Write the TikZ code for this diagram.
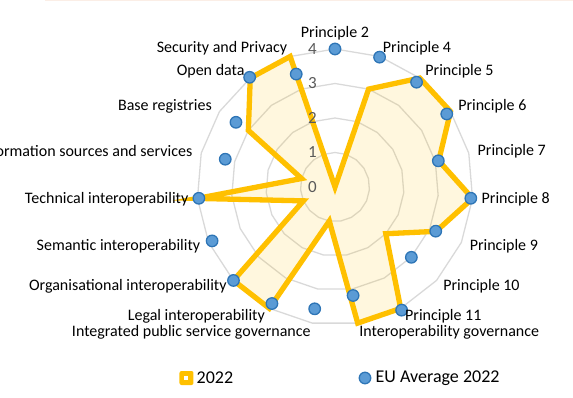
\documentclass[tikz,border=0pt]{standalone}
\usepackage{fontspec}
\setmainfont{Carlito}
\usepackage{tikz}
\definecolor{gold}{HTML}{FFC000}
\definecolor{eufill}{HTML}{5B9BD5}
\definecolor{euline}{HTML}{2E75B6}
\definecolor{gridgray}{HTML}{D9D9D9}
\definecolor{tickgray}{HTML}{595959}
\definecolor{topline}{HTML}{FBEEE6}
\def\ring(#1){\draw[gridline] (90:#1) \foreach \k in {1,...,18}{ -- ({90-\k*360/19}:#1)} -- cycle;}
\tikzset{
	gridline/.style={draw=gridgray, line width=1.3pt},
	serie/.style={draw=gold, line width=5.3pt},
	seriefill/.style={fill=gold, fill opacity=0.13},
	eudot/.style={circle, fill=eufill, draw=euline, line width=1.3pt, minimum size=11.5pt, inner sep=0pt},
	axislab/.style={inner sep=0pt, font=\fontsize{16}{19}\selectfont},
	ticklab/.style={inner sep=0pt, anchor=east, text=tickgray, font=\fontsize{17}{20}\selectfont},
	legtext/.style={inner sep=0pt, anchor=west, font=\fontsize{18}{22}\selectfont}
}

\begin{document}
\begin{tikzpicture}[x=1pt, y=1pt]
		%%%%% START %%%%%
		\useasboundingbox (-335, -210) rectangle (238, 187);
		\draw[topline, line width=1.5pt] (-290, 186.5) -- (238, 186.5);
		
		\ring(34.5) \ring(69) \ring(103.5) \ring(138)
		
		% 2022
		\coordinate (yP2) at (90:0);
		\coordinate (yP4) at (71.05:103.5);
		\coordinate (yP5) at (52.11:138);
		\coordinate (yP6) at (33.16:138);
		\coordinate (yP7) at (14.21:107);
		\coordinate (yP8) at (-4.74:138);
		\coordinate (yP9) at (-23.68:110.4);
		\coordinate (yP10) at (-42.63:69);
		\coordinate (yP11) at (-61.58:138);
		\coordinate (yIG) at (-80.53:138);
		\coordinate (yIPSG) at (-99.47:34.5);
		\coordinate (yLeg) at (-118.42:138);
		\coordinate (yOrg) at (-137.37:138);
		\coordinate (ySem) at (-156.32:34.5);
		\coordinate (yTech) at (-175.26:138);
		\coordinate (yInfo) at (165.79:34.5);
		\coordinate (yBase) at (146.84:103.5);
		\coordinate (yOpen) at (127.89:138);
		\coordinate (ySec) at (108.95:138);
		
		\fill[seriefill] (yP2) -- (yP4) -- (yP5) -- (yP6) -- (yP7) -- (yP8) -- (yP9) -- (yP10) -- (yP11) -- (yIG) -- (yIPSG) -- (yLeg) -- (yOrg) -- (ySem) -- (yTech) -- (yInfo) -- (yBase) -- (yOpen) -- (ySec) -- cycle;
		\draw[serie] (yP2) -- (yP4) -- (yP5) -- (yP6) -- (yP7) -- (yP8) -- (yP9) -- (yP10) -- (yP11) -- (yIG) -- (yIPSG) -- (yLeg) -- (yOrg) -- (ySem) -- (yTech) -- (yInfo) -- (yBase) -- (yOpen) -- (ySec) -- cycle;
		
		\node[ticklab] (t0) at (-18, 0) {0};
		\node[ticklab] (t1) at (-18, 34.5) {1};
		\node[ticklab] (t2) at (-18, 69) {2};
		\node[ticklab] (t3) at (-18, 103.5) {3};
		\node[ticklab] (t4) at (-18, 138) {4};
		
		% EU average
		\node[eudot] (eP2) at (90:138) {};
		\node[eudot] (eP4) at (71.05:137.3) {};
		\node[eudot] (eP5) at (52.11:132.8) {};
		\node[eudot] (eP6) at (33.16:133.5) {};
		\node[eudot] (eP7) at (14.21:106.6) {};
		\node[eudot] (eP8) at (-4.74:136.3) {};
		\node[eudot] (eP9) at (-23.68:110) {};
		\node[eudot] (eP10) at (-42.63:103.8) {};
		\node[eudot] (eP11) at (-61.58:140) {};
		\node[eudot] (eIG) at (-80.53:110) {};
		\node[eudot] (eIPSG) at (-99.47:123.5) {};
		\node[eudot] (eLeg) at (-118.42:132.5) {};
		\node[eudot] (eOrg) at (-137.37:138) {};
		\node[eudot] (eSem) at (-156.32:134.2) {};
		\node[eudot] (eTech) at (-175.26:136.6) {};
		\node[eudot] (eInfo) at (165.79:113.2) {};
		\node[eudot] (eBase) at (146.84:118.3) {};
		\node[eudot] (eOpen) at (127.89:139) {};
		\node[eudot] (eSec) at (108.95:119.4) {};
		
		% axis labels
		\node[axislab, anchor=south] (lP2) at (90:147) {Principle 2};
		\node[axislab, anchor=west] (lP4) at (71.05:147) {Principle 4};
		\node[axislab, anchor=west] (lP5) at (52.11:147) {Principle 5};
		\node[axislab, anchor=west] (lP6) at (33.16:147) {Principle 6};
		\node[axislab, anchor=west] (lP7) at (14.21:147) {Principle 7};
		\node[axislab, anchor=west] (lP8) at (-4.74:147) {Principle 8};
		\node[axislab, anchor=west] (lP9) at (-23.68:147) {Principle 9};
		\node[axislab, anchor=west] (lP10) at (-42.63:147) {Principle 10};
		\node[axislab, anchor=west] (lP11) at (-61.58:147) {Principle 11};
		\node[axislab, anchor=west] (lIG) at (-80.53:147) {Interoperability governance};
		\node[axislab, anchor=east] (lIPSG) at (-99.47:147) {Integrated public service governance};
		\node[axislab, anchor=east] (lLeg) at (-118.42:147) {Legal interoperability};
		\node[axislab, anchor=east] (lOrg) at (-137.37:147) {Organisational interoperability};
		\node[axislab, anchor=east] (lSem) at (-156.32:147) {Semantic interoperability};
		\node[axislab, anchor=east] (lTech) at (-175.26:147) {Technical interoperability};
		\node[axislab, anchor=east] (lInfo) at (165.79:147) {Information sources and services};
		\node[axislab, anchor=east] (lBase) at (146.84:147) {Base registries};
		\node[axislab, anchor=east] (lOpen) at (127.89:147) {Open data};
		\node[axislab, anchor=east] (lSec) at (108.95:147) {Security and Privacy};
		
		% legend
		\node[fill=gold, rounded corners=2pt, minimum size=14pt, inner sep=0pt] (legsq) at (-148.5, -191) {};
		\node[fill=white, minimum size=4pt, inner sep=0pt] (legsqin) at (legsq) {};
		\node[legtext] (leg22) at (-138.5, -191) {2022};
		\node[eudot] (legdot) at (30, -191) {};
		\node[legtext] (legeu) at (40.5, -191) {EU Average 2022};
		
		%%%%% END %%%%%
	\end{tikzpicture}
\end{document}
